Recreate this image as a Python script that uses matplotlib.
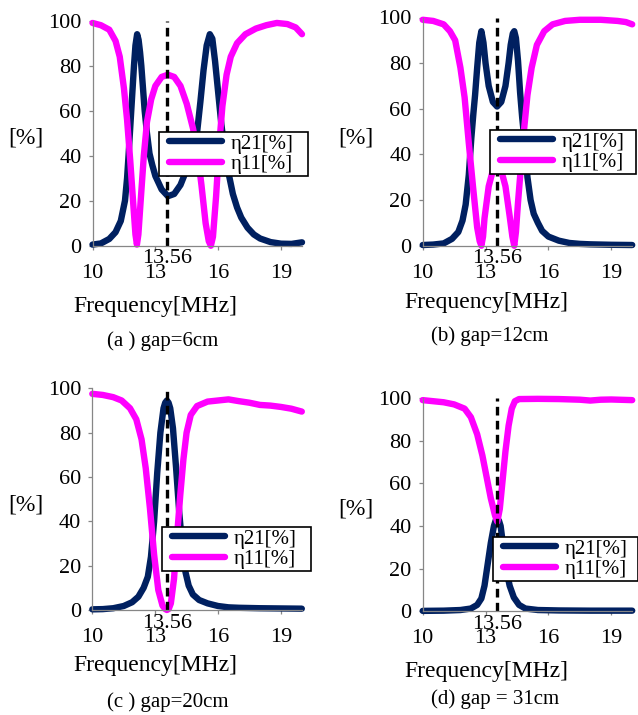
import numpy as np
import matplotlib.pyplot as plt
from matplotlib.lines import Line2D
from matplotlib.legend_handler import HandlerLine2D

plt.rcParams['font.family'] = ['Liberation Serif', 'DejaVu Serif']

W, H = 638, 715
NAVY = '#002060'
MAGENTA = '#ff00ff'
GREY = '#868686'
F0 = 13.56

# (a) gap = 6 cm
fa_21 = [10.0, 10.4, 10.8, 11.1, 11.35, 11.55, 11.65, 11.72, 11.85, 11.98, 12.05, 12.13, 12.2,
         12.27, 12.33, 12.49, 12.6, 12.72, 12.85, 13.0, 13.3, 13.6, 13.9, 14.2, 14.5, 14.8, 15.0,
         15.15, 15.3, 15.45, 15.6, 15.72, 15.85, 16.0, 16.15, 16.3, 16.5, 16.7, 16.9, 17.1, 17.4,
         17.7, 18.0, 18.5, 19.0, 19.5, 20.0]
eta21_a = [0.5, 1, 3, 6, 11, 20, 30, 40, 60, 80, 89, 94, 91.5,
           86, 80, 60, 50, 41, 36, 31, 25, 22, 23, 27, 34, 42, 51,
           64, 78, 89, 94, 92, 82, 68, 54, 43, 32, 23, 17, 12.5, 8,
           5, 3.2, 1.6, 0.9, 0.8, 1.5]
fa_11 = [10.0, 10.4, 10.8, 11.1, 11.3, 11.5, 11.65, 11.8, 11.95, 12.05, 12.12, 12.19, 12.3, 12.45,
         12.6, 12.8, 13.0, 13.3, 13.6, 13.9, 14.2, 14.5, 14.8, 15.0, 15.2, 15.4, 15.55, 15.65,
         15.75, 15.9, 16.05, 16.2, 16.4, 16.6, 16.9, 17.3, 17.8, 18.3, 18.8, 19.3, 19.7, 20.0]
eta11_a = [99, 98, 96, 91, 84, 70, 56, 38, 18, 5, 0.5, 5, 20, 40,
           55, 65, 71, 75, 76, 75, 71, 63, 52, 42, 27, 10, 2, 0,
           4, 22, 45, 62, 76, 84, 90, 94, 96.5, 98, 99, 98.5, 97, 94]

# (b) gap = 12 cm
fb_21 = [10.0, 10.5, 11.0, 11.4, 11.7, 11.9, 12.05, 12.2, 12.32, 12.42, 12.5, 12.6, 12.7, 12.8,
         12.9, 13.0, 13.15, 13.35, 13.55, 13.75, 13.95, 14.1, 14.2, 14.3, 14.37, 14.45, 14.55,
         14.65, 14.75, 14.85, 15.0, 15.15, 15.3, 15.5, 15.7, 16.0, 16.5, 17.0, 17.5, 18.0, 19.0,
         20.0]
eta21_b = [0.3, 0.5, 1, 3, 6, 11, 18, 31, 47, 58, 66, 78, 89, 94,
           89, 80, 70, 63, 61, 63, 70, 80, 88, 93, 94, 91, 81,
           67, 56, 47, 30, 20, 14, 10, 6.5, 4, 2.2, 1.2, 0.8, 0.6, 0.4,
           0.3]
fb_11 = [10.0, 10.5, 11.0, 11.3, 11.55, 11.8, 12.0, 12.2, 12.4, 12.6, 12.72, 12.8, 12.88, 12.95,
         13.15, 13.35, 13.55, 13.75, 13.95, 14.15, 14.28, 14.37, 14.45, 14.55, 14.7, 14.85, 15.0,
         15.2, 15.45, 15.8, 16.2, 16.8, 17.5, 18.5, 19.3, 19.7, 20.0]
eta11_b = [99, 98.5, 97, 94, 90, 78, 65, 45, 26, 8, 2, 0, 4, 12,
           26, 33, 35, 33, 26, 13, 4, 0, 6, 19, 36, 52, 66,
           78, 88, 94, 97, 98.5, 99, 99, 98.5, 98, 97]

# (c) gap = 20 cm
fc_21 = [10.0, 10.5, 11.0, 11.5, 11.9, 12.2, 12.45, 12.65, 12.8, 12.95, 13.1, 13.25, 13.4, 13.48,
         13.56, 13.64, 13.72, 13.85, 14.0, 14.15, 14.3, 14.45, 14.6, 14.8, 15.1, 15.5, 16.0, 16.5,
         17.0, 18.0, 19.0, 20.0]
eta21_c = [0.3, 0.4, 0.8, 1.8, 3.5, 6, 10, 15, 24, 40, 62, 80, 91, 93.5,
           94.5, 93.5, 91, 82, 64, 44, 28, 17, 11, 7, 4.5, 3, 1.8, 1.2,
           1, 0.8, 0.7, 0.6]
fc_11 = [10.0, 10.5, 11.0, 11.4, 11.8, 12.1, 12.35, 12.55, 12.75, 12.95, 13.15, 13.35, 13.47,
         13.56, 13.65, 13.75, 13.9, 14.05, 14.2, 14.35, 14.5, 14.7, 15.0, 15.5, 16.0, 16.5, 17.0,
         17.5, 18.0, 18.5, 19.0, 19.5, 20.0]
eta11_c = [97.5, 97, 96, 94.5, 91, 86, 77, 64, 46, 25, 9, 2, 0.5,
           0, 0.5, 3, 14, 34, 52, 68, 80, 88, 92, 94, 94.5, 95, 94.2,
           93.5, 92.5, 92.2, 91.6, 90.8, 89.5]

# (d) gap = 31 cm
fd_21 = [10.0, 11.0, 11.8, 12.3, 12.6, 12.8, 12.95, 13.1, 13.25, 13.4, 13.48, 13.56, 13.64, 13.72,
         13.85, 14.0, 14.15, 14.35, 14.6, 14.9, 15.5, 16.5, 18.0, 20.0]
eta21_d = [0.2, 0.3, 0.6, 1.3, 3, 6, 12, 22, 32, 40, 42.5, 43, 42.5, 40,
           30, 19, 12, 6.5, 3, 1.3, 0.6, 0.4, 0.3, 0.3]
fd_11 = [10.0, 10.5, 11.0, 11.5, 12.0, 12.3, 12.6, 12.85, 13.05, 13.25, 13.45, 13.56, 13.68,
         13.8, 13.95, 14.1, 14.25, 14.4, 14.6, 15.5, 16.5, 17.5, 18.0, 18.5, 19.0, 20.0]
eta11_d = [99, 98.5, 98, 97, 95, 91, 83, 73, 63, 53, 45, 42, 48,
           60, 75, 87, 95, 98.5, 99.5, 99.6, 99.5, 99.2, 98.8, 99.2, 99.3, 99]

x_ticks = [10, 13, 16, 19]
y_ticks = [0, 20, 40, 60, 80, 100]
labels = ['η21[%]', 'η11[%]']

# pixel boxes: (left, top, right, bottom) of the plot area, then text anchors
panels = [
    dict(f21=fa_21, e21=eta21_a, f11=fa_11, e11=eta11_a, box=(92.5, 20.7, 302, 245.7),
         leg=(159, 132, 149), ylab=(26, 138), xlab=(155, 306), cap=(163, 341), title='(a ) gap=6cm'),
    dict(f21=fb_21, e21=eta21_b, f11=fb_11, e11=eta11_b, box=(422.7, 17.5, 632.2, 245.7),
         leg=(490, 130, 146), ylab=(356, 138), xlab=(486, 303), cap=(490, 336), title='(b) gap=12cm'),
    dict(f21=fc_21, e21=eta21_c, f11=fc_11, e11=eta11_c, box=(92.3, 388.3, 301.8, 610),
         leg=(162, 527, 148.5), ylab=(26, 505), xlab=(155, 665), cap=(168, 702), title='(c ) gap=20cm'),
    dict(f21=fd_21, e21=eta21_d, f11=fd_11, e11=eta11_d, box=(422.7, 398, 632.2, 611.3),
         leg=(493, 537, 144.5), ylab=(356, 509), xlab=(486, 671), cap=(495, 699), title='(d) gap = 31cm'),
]

fig = plt.figure(figsize=(W / 100, H / 100), dpi=100)


def fx(x):
    return x / W


def fy(y):
    return 1 - y / H


for p in panels:
    l, t, r, b = p['box']
    ax = fig.add_axes([fx(l), fy(b), (r - l) / W, (b - t) / H])
    line_kw = dict(lw=4.6, solid_capstyle='round', solid_joinstyle='round', clip_on=False)
    ax.plot(p['f21'], p['e21'], color=NAVY, label=labels[0], **line_kw)
    ax.plot(p['f11'], p['e11'], color=MAGENTA, label=labels[1], **line_kw)
    ax.plot([F0, F0], [0, 100], color='black', lw=2.4, ls=(0, (2.6, 1.6)), clip_on=False)

    ax.set_xlim(10, 20)
    ax.set_ylim(0, 100)
    ax.set_xticks(x_ticks)
    ax.set_yticks(y_ticks)
    for side in ['top', 'right']:
        ax.spines[side].set_visible(False)
    for side in ['left', 'bottom']:
        ax.spines[side].set_color(GREY)
        ax.spines[side].set_linewidth(0.9)
    ax.tick_params(axis='both', colors=GREY, labelcolor='black', labelsize=16,
                   length=3, width=0.9, direction='out')
    ax.tick_params(axis='x', pad=10)
    ax.tick_params(axis='y', pad=5)

    ax.annotate('13.56', xy=(F0, 0), xycoords='data', xytext=(0, -13),
                textcoords='offset pixels', ha='center', va='center', fontsize=16)

    lx, ly, lw = p['leg']
    lh = 44
    leg = ax.legend(loc='upper left', bbox_to_anchor=(fx(lx), fy(ly + lh), lw / W, lh / H),
                    bbox_transform=fig.transFigure, mode='expand', borderaxespad=0, fontsize=15,
                    frameon=True, fancybox=False, framealpha=1, edgecolor='black',
                    borderpad=0.1, labelspacing=0.05, handlelength=2.9, handletextpad=0.45,
                    handler_map={Line2D: HandlerLine2D(xpad=0.4)})
    leg.get_frame().set_linewidth(1.2)
    leg.set_zorder(10)

    fig.text(fx(p['ylab'][0]), fy(p['ylab'][1]), '[%]', ha='center', va='center', fontsize=17)
    fig.text(fx(p['xlab'][0]), fy(p['xlab'][1]), 'Frequency[MHz]', ha='center', va='center',
             fontsize=17)
    fig.text(fx(p['cap'][0]), fy(p['cap'][1]), p['title'], ha='center', va='center', fontsize=15)

fig.savefig('out.png', dpi=100, facecolor='white')
